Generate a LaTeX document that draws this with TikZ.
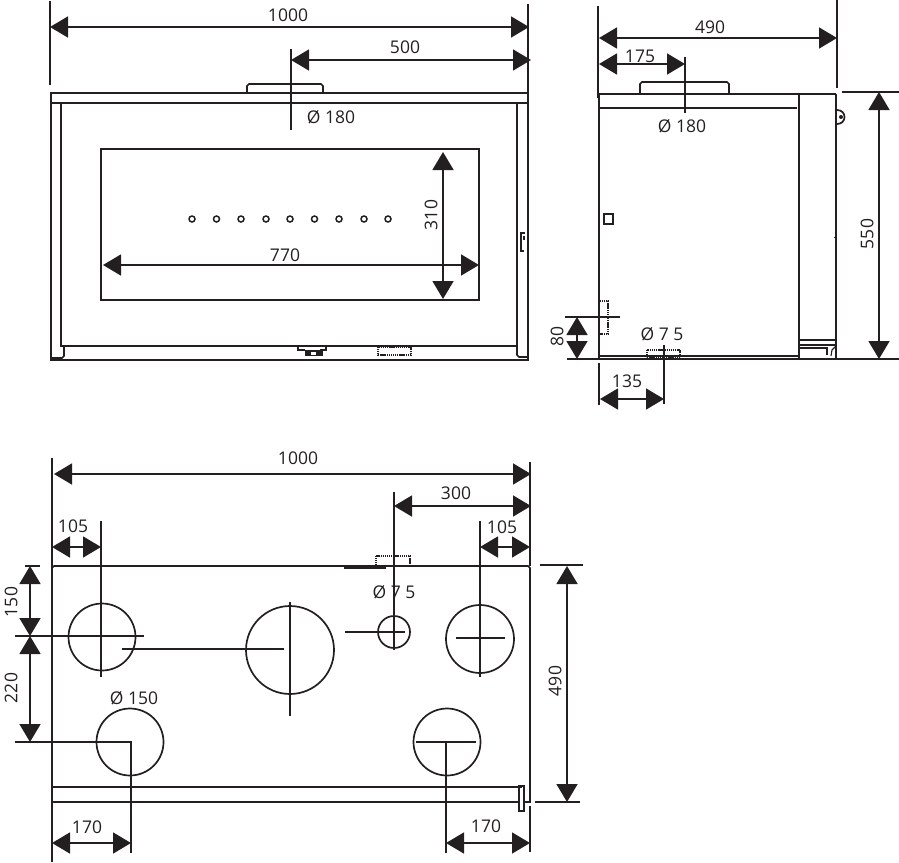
\documentclass[tikz,border=0pt]{standalone}
\usepackage{fontspec}
\setmainfont{Open Sans}
\usetikzlibrary{arrows.meta}
\definecolor{inkc}{HTML}{231F20}
\tikzset{
	dimline/.style={line width=1.6pt, color=inkc, {Triangle[length=18pt,width=21pt]}-{Triangle[length=18pt,width=21pt]}},
	extline/.style={line width=1.5pt, color=inkc},
	body/.style={line width=1.7pt, color=inkc},
	heavy/.style={line width=2.2pt, color=inkc},
	hidden/.style={line width=1.3pt, color=inkc, dash pattern=on 1.2pt off 0.7pt},
	dimtext/.style={color=inkc, font=\fontsize{17.5}{20}\selectfont, inner sep=0pt},
}
\def\dotpos{192,216.5,241,266,290,314.5,339,364,388}

\begin{document}
\begin{tikzpicture}[x=1pt,y=-1pt]
	\useasboundingbox (0,0) rectangle (899,862);
	%%%%% FRONT %%%%%

	\draw[extline] (50,1) -- (50,85);
	\draw[extline] (528,4) -- (528,92);
	\draw[extline] (291,49) -- (291,130);
	\draw[dimline] (50,27) -- (529,27);
	\draw[dimline] (291,60) -- (531,60);
	\node[dimtext] (frontwidth) at (288,15) {1000};
	\node[dimtext] (fronthalf) at (405,47) {500};
	\node[dimtext] (frontflue) at (331,117) {Ø 180};

	\draw[body] (247,92) -- (247,86) -- (249,84) -- (321,84) -- (323,86) -- (323,92);
	\draw[body] (51,93) -- (528,93) -- (528,360) -- (51,360) -- cycle;
	\draw[heavy] (50,103) -- (527,103);
	\draw[body] (61,103) -- (61,346) -- (517,346) -- (517,103);
	\draw[body] (64,346) -- (64,356) -- (62,358) -- (51,358);
	\draw[body] (517,346) -- (517,355) -- (519,357) -- (528,357);

	\draw[body] (101,149) rectangle (479,300);
	\foreach \dotx in \dotpos {
		\draw[body, line width=1.5pt] (\dotx,219) circle (3);
	}
	\draw[dimline] (443,152) -- (443,299);
	\draw[dimline] (103,265) -- (479,265);
	\node[dimtext, rotate=90] (windowh) at (431,215) {310};
	\node[dimtext] (windoww) at (285,255) {770};

	\draw[body, line width=1.1pt] (525,233) -- (521,233) -- (521,251) -- (524,251);
	\draw[heavy] (524,236) -- (524,240);
	\draw[body, line width=1.1pt] (298,346) -- (298,350) -- (305,350);
	\draw[body, line width=1.1pt] (326,346) -- (326,350) -- (320,350);
	\fill[inkc] (305,350) rectangle (323,356);
	\fill[white] (311,352) rectangle (316,355);
	\draw[hidden] (378,347) rectangle (411,355);

	%%%%% SIDE %%%%%

	\draw[extline] (598,6) -- (598,98);
	\draw[extline] (837,0) -- (837,88);
	\draw[extline] (685,57) -- (685,113);
	\draw[dimline] (599,38) -- (837,38);
	\draw[dimline] (599,64) -- (685,64);
	\node[dimtext] (sidedepth) at (710,27) {490};
	\node[dimtext] (sideflue) at (640,56) {175};
	\node[dimtext] (sidedia) at (682,126) {Ø 180};

	\draw[body] (640,94) -- (640,84) -- (642,82) -- (727,82) -- (729,84) -- (729,94);
	\draw[heavy] (599,94) -- (836,94);
	\draw[heavy] (599,94) -- (599,359);
	\draw[body] (600,108) -- (797,108);
	\draw[body] (799,94) -- (799,359);
	\draw[heavy] (836,94) -- (836,359);
	\draw[body] (604,214) rectangle (613,224);
	\draw[body] (837,110) .. controls (847,110) and (847,124) .. (837,124);
	\fill[inkc] (841,117) circle (2);
	\draw[body, line width=1pt] (834,237) -- (836,237);

	\draw[extline] (842,92) -- (899,92);
	\draw[extline] (600,359) -- (899,359);
	\draw[dimline] (879,92) -- (879,359);
	\node[dimtext, rotate=90] (sideheight) at (867,234) {550};

	\draw[extline] (565,317) -- (620,317);
	\draw[extline] (567,359) -- (600,359);
	\draw[dimline] (577,317) -- (577,359);
	\node[dimtext, rotate=90] (sidevent) at (557,336) {80};
	\draw[hidden] (600,301) -- (608,301) -- (608,334) -- (600,334);

	\draw[body] (600,356) -- (799,356);
	\draw[hidden] (647,350) rectangle (680,358);
	\node[dimtext] (sideair) at (662,334) {Ø 7 5};
	\draw[extline] (599,363) -- (599,405);
	\draw[extline] (664,345) -- (664,404);
	\draw[dimline] (600,399) -- (664,399);
	\node[dimtext] (sidebase) at (627,381) {135};

	\draw[heavy] (799,340) -- (836,340);
	\draw[body, line width=1.1pt] (799,345) -- (836,345);
	\draw[body, line width=1.1pt] (799,348) -- (827,348) -- (827,355);
	\draw[body, line width=1.1pt] (836,346) -- (832,350) -- (831,356);

	%%%%% TOP %%%%%

	\draw[extline] (52,458) -- (52,862);
	\draw[extline] (530,462) -- (530,566);
	\draw[extline] (394,492) -- (394,650);
	\draw[extline] (101,521) -- (101,677);
	\draw[extline] (480,521) -- (480,677);
	\draw[dimline] (54,474) -- (531,474);
	\draw[dimline] (394,506) -- (531,506);
	\draw[dimline] (52,547) -- (101,547);
	\draw[dimline] (480,547) -- (530,547);
	\node[dimtext] (topwidth) at (298,458) {1000};
	\node[dimtext] (topair) at (456,493) {300};
	\node[dimtext] (topleft) at (73,526) {105};
	\node[dimtext] (topright) at (502,527) {105};

	\draw[body] (52,786) -- (52,568) -- (54,566) -- (528,566) -- (530,568) -- (530,802) -- (525,802);
	\draw[heavy] (344,568) -- (386,568);
	\draw[hidden] (376,556) rectangle (410,566);
	\draw[body] (52,787) -- (522,787);
	\draw[body] (52,802) -- (519,802);
	\draw[body] (519,786) rectangle (524,811);
	\draw[extline] (530,806) -- (530,852);

	\draw[extline] (540,565) -- (583,565);
	\draw[extline] (535,802) -- (580,802);
	\draw[dimline] (567,566) -- (567,802);
	\node[dimtext, rotate=90] (topdepth) at (555,681) {490};

	\draw[extline] (25,566) -- (40,566);
	\draw[extline] (15,636) -- (144,636);
	\draw[extline] (15,742) -- (132,742);
	\draw[dimline] (30,566) -- (30,636);
	\draw[dimline] (30,636) -- (30,742);
	\node[dimtext, rotate=90] (toprear) at (11,602) {150};
	\node[dimtext, rotate=90] (topfront) at (11,688) {220};

	\draw[body] (102,637) circle (33.5);
	\draw[body] (290,650) circle (44);
	\draw[body] (394,632) circle (16);
	\draw[body] (480,639) circle (34);
	\draw[body] (130,742) circle (33.5);
	\draw[body] (447,742) circle (33.5);

	\draw[extline] (122,649) -- (284,649);
	\draw[extline] (290,602) -- (290,716);
	\draw[extline] (345,632) -- (405,632);
	\draw[extline] (456,638) -- (505,638);
	\draw[extline] (416,742) -- (476,742);
	\draw[extline] (131,742) -- (131,853);
	\draw[extline] (446,742) -- (446,853);
	\node[dimtext] (topdia) at (134,698) {Ø 150};
	\node[dimtext] (topvent) at (394,592) {Ø 7 5};

	\draw[dimline] (52,843) -- (131,843);
	\draw[dimline] (446,843) -- (530,843);
	\node[dimtext] (topbl) at (87,827) {170};
	\node[dimtext] (topbr) at (486,826) {170};
\end{tikzpicture}
\end{document}
